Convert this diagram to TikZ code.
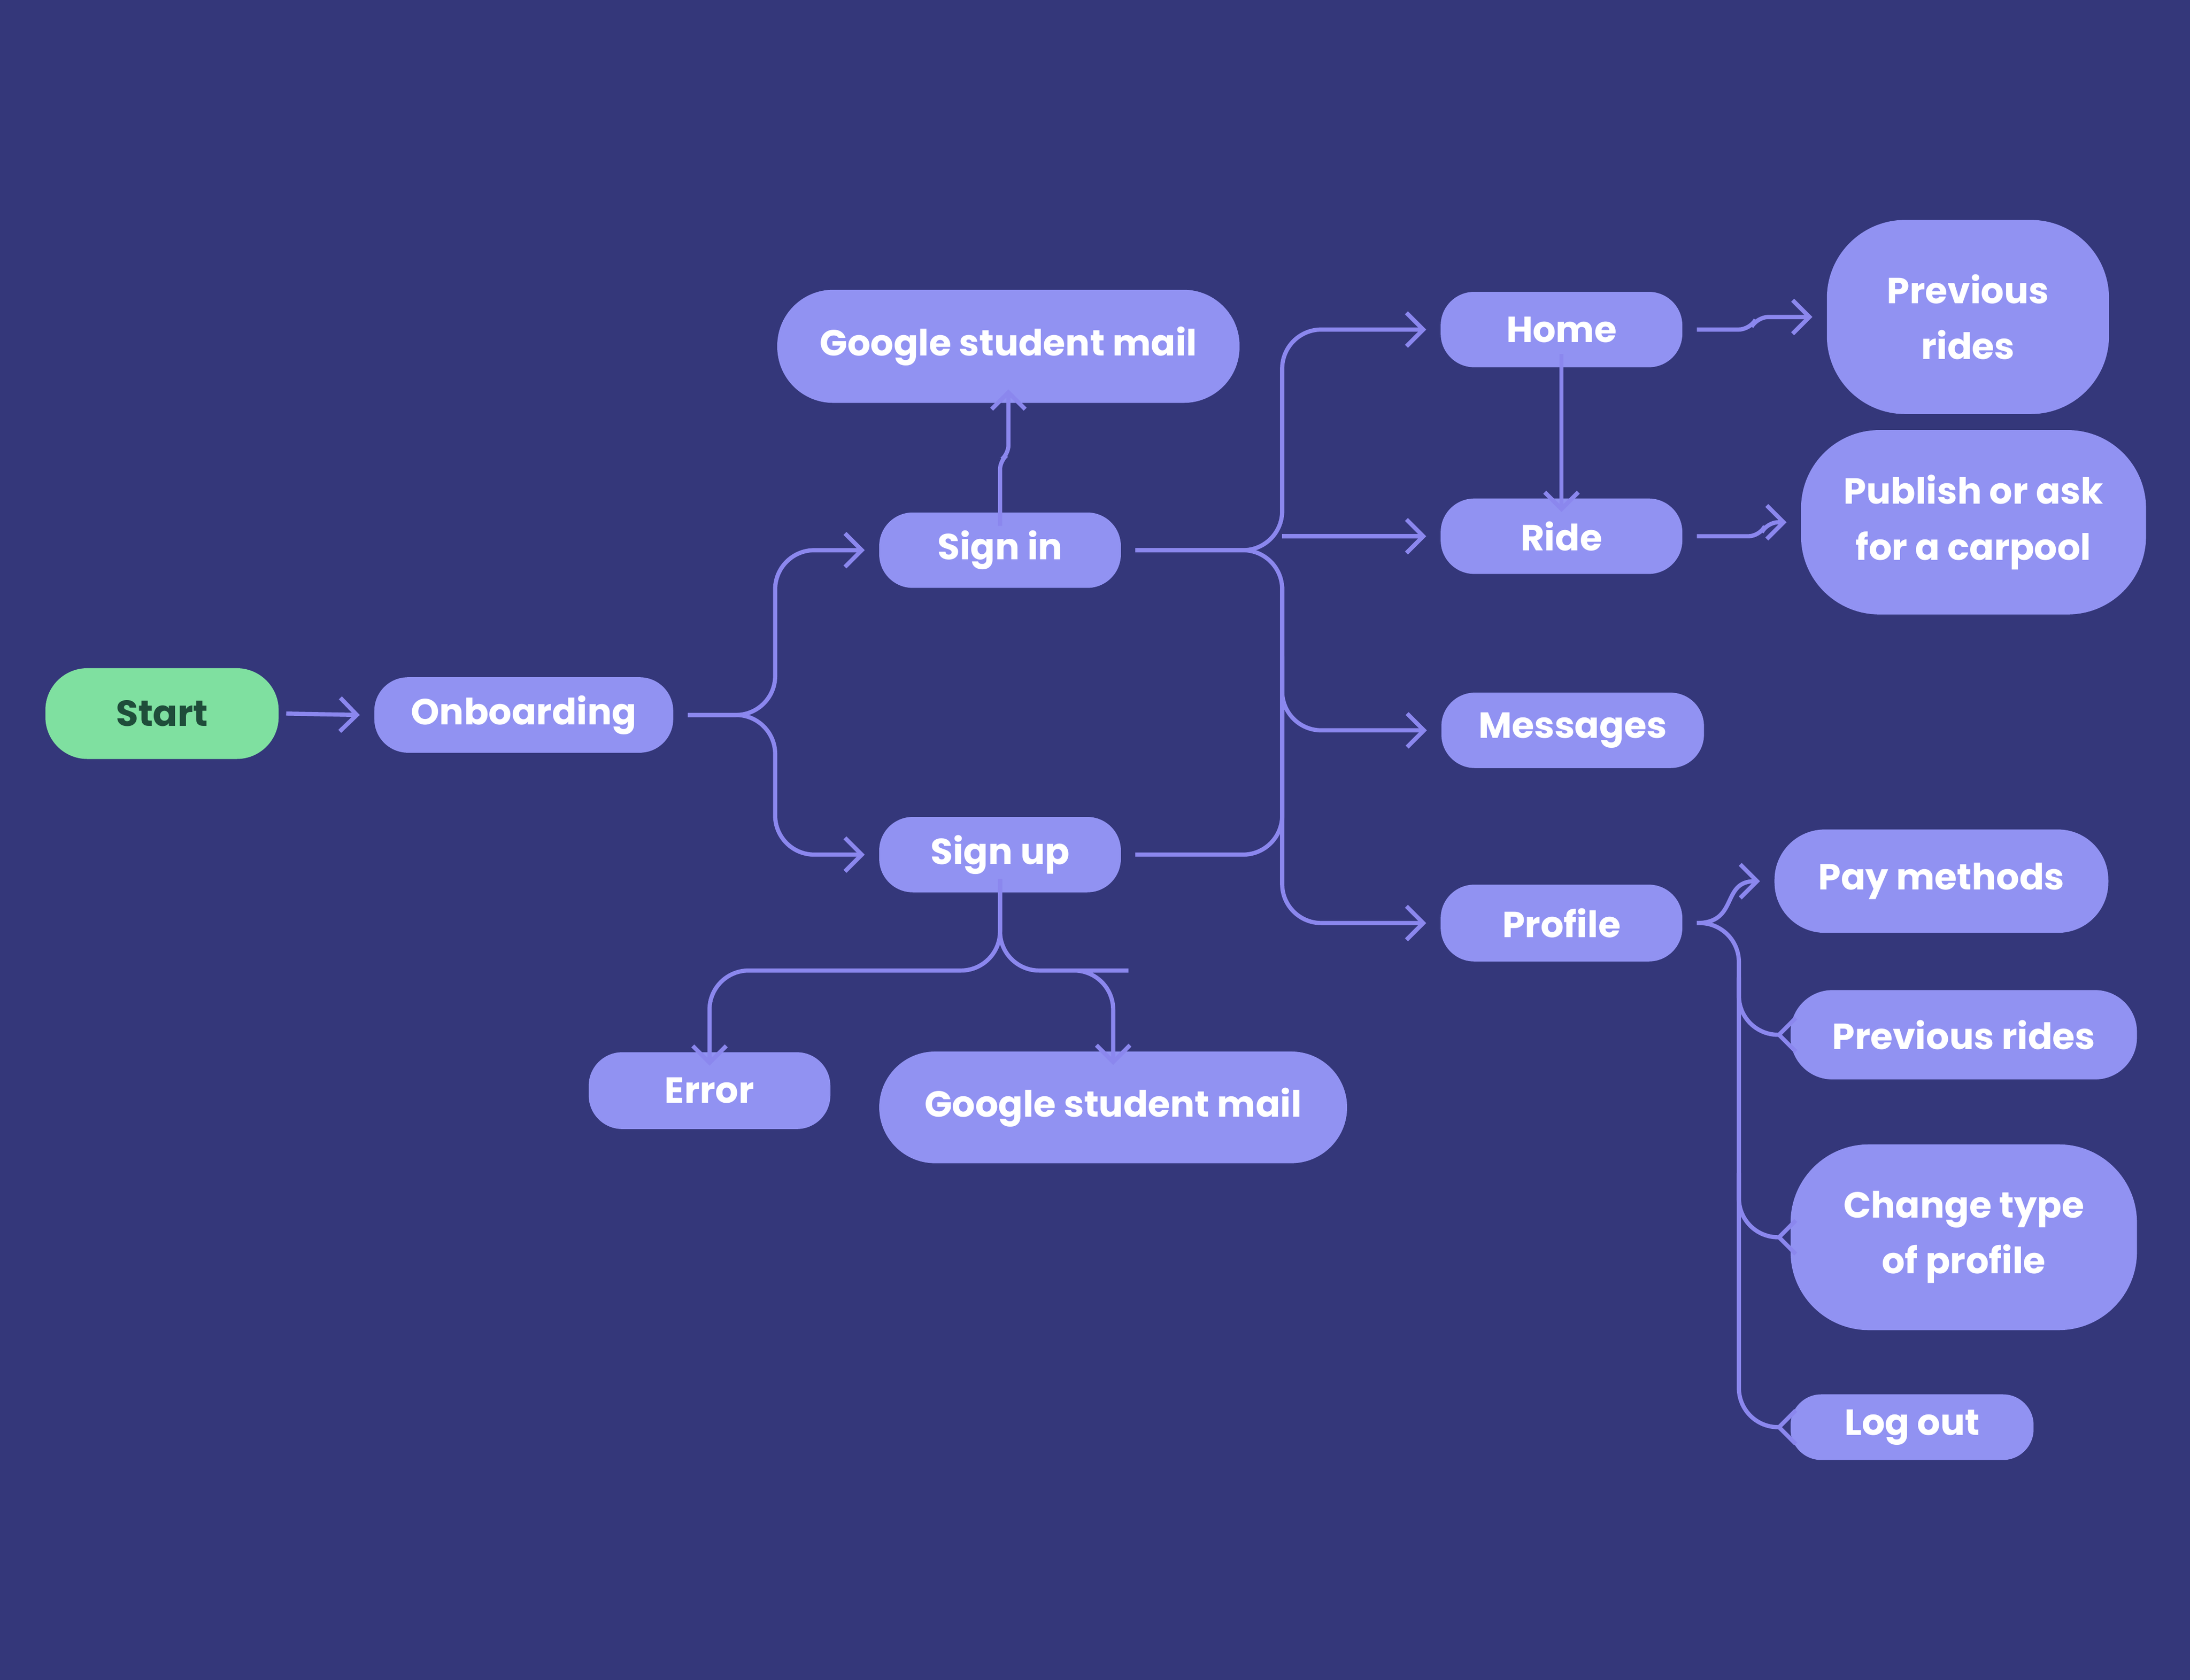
\documentclass[tikz,border=0pt]{standalone}
\usepackage{fontspec}
\setmainfont{Poppins}
\usetikzlibrary{arrows.meta}
\definecolor{bg}{HTML}{34377A}
\definecolor{boxc}{HTML}{9192F2}
\definecolor{linec}{HTML}{8B87EE}
\definecolor{startc}{HTML}{7FE0A0}
\definecolor{startt}{HTML}{1F4D3A}
\begin{document}
\begin{tikzpicture}[x=0.5pt,y=-0.5pt,
  box/.style={fill=boxc,text=white,font=\fontsize{13}{20}\selectfont\bfseries,align=center,inner sep=0pt},
  conn/.style={draw=linec,line width=1.5pt,rounded corners=14pt,-{Straight Barb[length=6pt,width=12pt,line width=1.5pt]}},
  plain/.style={draw=linec,line width=1.5pt,rounded corners=14pt}]
\fill[bg] (0,0) rectangle (1568,1203);
\useasboundingbox (0,0) rectangle (1568,1203);
\node[box,fill=startc,text=startt,minimum width=83.5pt,minimum height=32.5pt,rounded corners=15pt] (start) at (116,511) {Start};
\node[box,minimum width=107pt,minimum height=27pt,rounded corners=12pt] (onb) at (375,512) {Onboarding};
\node[box,minimum width=86.5pt,minimum height=27pt,rounded corners=12pt] (si) at (716,394) {Sign in};
\node[box,minimum width=86.5pt,minimum height=27pt,rounded corners=12pt] (su) at (716,612) {Sign up};
\node[box,minimum width=165.5pt,minimum height=40.5pt,rounded corners=20pt] (g1) at (722,248) {Google student mail};
\node[box,minimum width=86.5pt,minimum height=27.5pt,rounded corners=12pt] (err) at (508,781) {Error};
\node[box,minimum width=167.5pt,minimum height=40pt,rounded corners=20pt] (g2) at (797,793) {Google student mail};
\node[box,minimum width=86.5pt,minimum height=27pt,rounded corners=12pt] (home) at (1118,236) {Home};
\node[box,minimum width=86.5pt,minimum height=27pt,rounded corners=12pt] (ride) at (1118,384) {Ride};
\node[box,minimum width=94pt,minimum height=27pt,rounded corners=12pt] (msg) at (1126,523) {Messages};
\node[box,minimum width=86.5pt,minimum height=27.5pt,rounded corners=12pt] (prof) at (1118,661) {Profile};
\node[box,minimum width=101pt,minimum height=69.5pt,rounded corners=28pt] (prev1) at (1409,227) {Previous\\rides};
\node[box,minimum width=123.5pt,minimum height=66pt,rounded corners=28pt] (pub) at (1413,374) {Publish or ask\\for a carpool};
\node[box,minimum width=119.5pt,minimum height=37pt,rounded corners=18pt] (pay) at (1390,631) {Pay methods};
\node[box,minimum width=124pt,minimum height=32pt,rounded corners=15pt] (prev2) at (1406,741) {Previous rides};
\node[box,minimum width=124pt,minimum height=66.5pt,rounded corners=28pt] (chg) at (1406,886) {Change type\\of profile};
\node[box,minimum width=87pt,minimum height=23.5pt,rounded corners=11pt] (lo) at (1369,1022) {Log out};

\coordinate (hubx) at (918,0);
\draw[conn] (start.east)++(5,0) -- ([xshift=-5]onb.west);
\draw[conn] ([xshift=5]onb.east) -| (555,394) -- ([xshift=-5]si.west);
\draw[conn] ([xshift=5]onb.east) -| (555,612) -- ([xshift=-5]su.west);
\draw[conn,rounded corners=3pt] ([yshift=-5]si.north) -- (716,330) -- (722,325) -- ([yshift=5]g1.south);
\draw[conn] ([yshift=5]su.south) |- (640,695) -| ([yshift=-5]err.north);
\draw[conn] ([yshift=5]su.south) |- (780,695) -| ([yshift=-5]g2.north);
\draw[conn] ([xshift=5]si.east) -| (918,300) |- ([xshift=-5]home.west);
\draw[conn] ([xshift=5]si.east) -| (918,600) |- ([xshift=-5]prof.west);
\draw[plain] ([xshift=5]su.east) -| (918,420);
\draw[conn] (918,384) -- ([xshift=-5]ride.west);
\draw[conn] (918,470) |- ([xshift=-5]msg.west);
\draw[conn,rounded corners=0pt] ([yshift=5]home.south) -- ([yshift=-5]ride.north);
\draw[conn,rounded corners=4pt] ([xshift=5]home.east) -- (1253,236) -- (1258,227) -- ([xshift=-5]prev1.west);
\draw[conn,rounded corners=4pt] ([xshift=5]ride.east) -- (1260,384) -- (1265,374) -- ([xshift=-5]pub.west);
\draw[conn] ([xshift=5]prof.east) .. controls (1245,661) and (1232,631) .. ([xshift=-5]pay.west);
\draw[conn] ([xshift=5]prof.east) -| (1245,900) |- ([xshift=-5]lo.west);
\draw[conn] (1245,700) |- ([xshift=-5]prev2.west);
\draw[conn] (1245,840) |- ([xshift=-5]chg.west);
\end{tikzpicture}
\end{document}
